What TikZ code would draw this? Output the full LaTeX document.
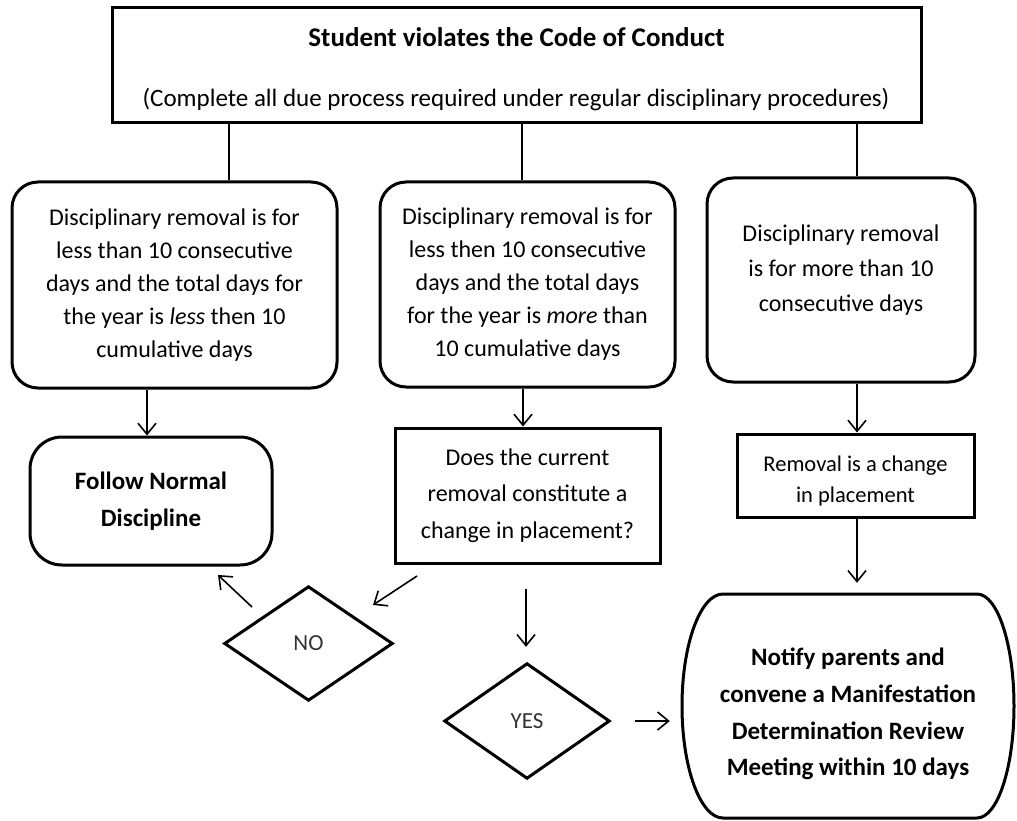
\documentclass[tikz,border=0pt]{standalone}
\usepackage{fontspec}
\setmainfont{Carlito}
\usetikzlibrary{arrows.meta,calc}
\begin{document}
\begin{tikzpicture}[x=1pt,y=-1pt,
  bord/.style={line width=3pt},
  box/.style={draw,bord,rectangle,align=center,inner sep=0pt},
  rbox/.style={box,rounded corners=26pt},
  body/.style={font=\fontsize{24}{33}\selectfont},
  conn/.style={line width=1.6pt},
  arr/.style={conn,-{Straight Barb[length=11pt,width=18pt]}},
  plain/.style={rectangle,inner sep=0pt,align=center},
  dtext/.style={font=\fontsize{23}{23}\selectfont,text=black!80}
]
\useasboundingbox (0,0) rectangle (1017,821);

% top box
\node[box,minimum width=809pt,minimum height=115pt] (top) at (516.5,65.5) {};
\node[font=\fontsize{27}{27}\selectfont\bfseries,anchor=base] (title) at (516.5,47) {Student violates the Code of Conduct};
\node[font=\fontsize{25}{25}\selectfont,anchor=base] (sub) at (516,107) {(Complete all due process required under regular disciplinary procedures)};

% three condition boxes
\node[rbox,body,minimum width=325pt,minimum height=206pt] (b1) at (174.5,285)
  {Disciplinary removal is for\\less than 10 consecutive\\days and the total days for\\the year is \textit{less} then 10\\cumulative days};
\node[rbox,body,minimum width=295pt,minimum height=205pt] (b2) at (527.5,284.5)
  {Disciplinary removal is for\\less then 10 consecutive\\days and the total days\\for the year is \textit{more} than\\10 cumulative days};
\node[rbox,font=\fontsize{24}{35}\selectfont,minimum width=268pt,minimum height=204pt] (b3) at (841,280)
  {Disciplinary removal\\is for more than 10\\consecutive days\\[-12pt]\mbox{}};

% second row
\node[box,rounded corners=32pt,font=\fontsize{25}{37}\selectfont\bfseries,minimum width=242pt,minimum height=128pt] (f) at (151,501)
  {Follow Normal\\Discipline};
\node[box,font=\fontsize{24}{36.5}\selectfont,minimum width=265pt,minimum height=135pt] (d) at (527.5,495.5)
  {Does the current\\removal constitute a\\change in placement?};
\node[box,font=\fontsize{22.5}{31}\selectfont,minimum width=237pt,minimum height=83pt] (r) at (855.5,475.5)
  {\\[-5pt]Removal is a change\\in placement};

% decisions
\node[plain,dtext,minimum width=167pt,minimum height=113pt] (no) at (308.5,643.5) {NO};
\draw[bord] (no.north) -- (no.east) -- (no.south) -- (no.west) -- cycle;
\node[plain,dtext,minimum width=164pt,minimum height=114pt] (yes) at (527,721) {YES};
\draw[bord] (yes.north) -- (yes.east) -- (yes.south) -- (yes.west) -- cycle;

% final
\node[plain,font=\fontsize{25}{36.7}\selectfont\bfseries,minimum width=332pt,minimum height=224pt] (n) at (848,714)
  {Notify parents and\\convene a Manifestation\\Determination Review\\Meeting within 10 days};
\draw[bord] (723,594) -- (977,594)
  .. controls (997.4,594) and (1014,644.1) .. (1014,706)
  .. controls (1014,767.9) and (997.4,818) .. (977,818)
  -- (723,818)
  .. controls (700.4,818) and (682,767.9) .. (682,706)
  .. controls (682,644.1) and (700.4,594) .. (723,594) -- cycle;

% connector guide coordinates
\coordinate (x229) at (229,0);
\coordinate (x522) at (522,0);
\coordinate (x857) at (857,0);
\coordinate (x147) at (147,0);
\coordinate (x523) at (523,0);
\coordinate (x526) at (526,0);
\coordinate (dno1) at (417,576);
\coordinate (dno2) at (373,605);
\coordinate (nof1) at (252,607);
\coordinate (nof2) at (218,575);

\draw[conn] (top.south -| x229) -- (b1.north -| x229);
\draw[conn] (top.south -| x522) -- (b2.north -| x522);
\draw[conn] (top.south -| x857) -- (b3.north -| x857);
\draw[arr] (b1.south -| x147) -- (f.north -| x147);
\draw[arr] (b2.south -| x523) -- (d.north -| x523);
\draw[arr] (b3.south -| x857) -- (r.north -| x857);
\draw[arr,shorten >=19pt] (r.south -| x857) -- (n.north -| x857);
\draw[arr,shorten <=24pt,shorten >=17pt] (d.south -| x526) -- (yes.north -| x526);
\draw[arr,shorten <=26pt,shorten >=12pt] (yes.east) -- (yes.east -| n.west);
\draw[arr] (dno1) -- (dno2);
\draw[arr] (nof1) -- (nof2);
\end{tikzpicture}
\end{document}
